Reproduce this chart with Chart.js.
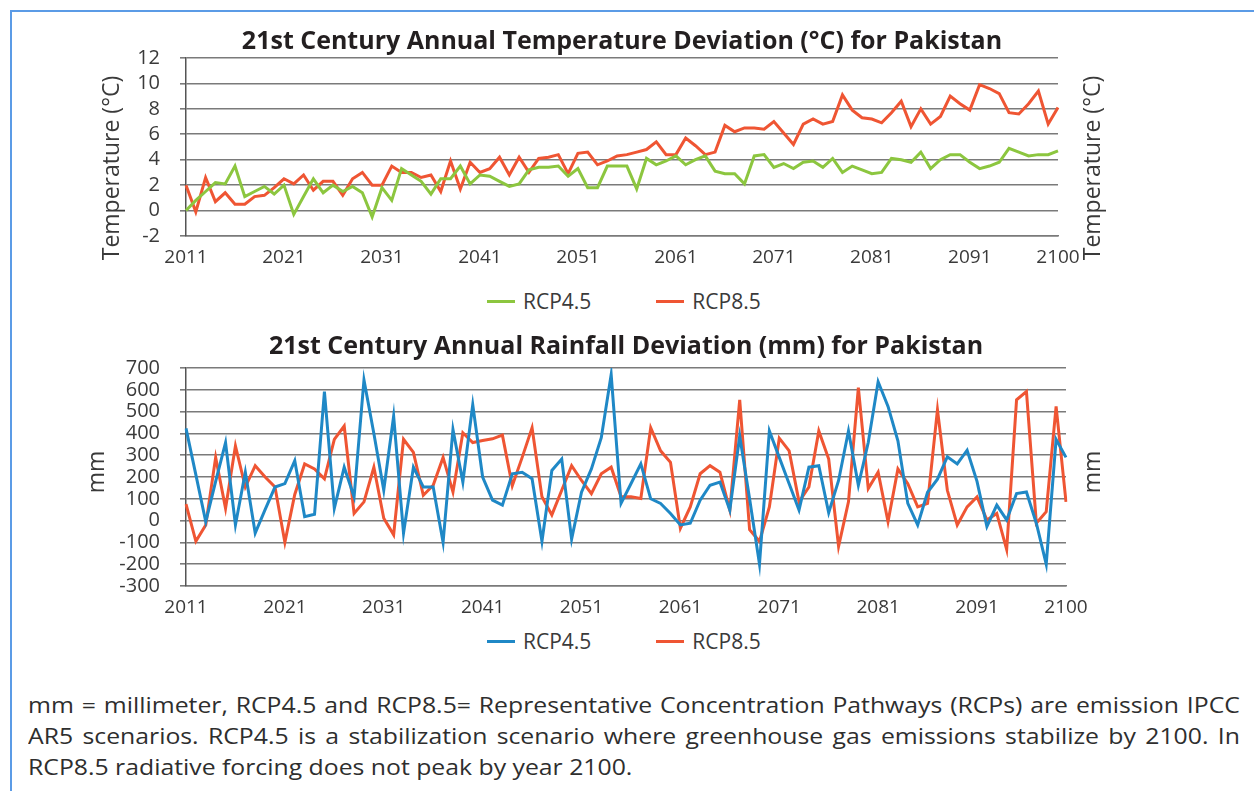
<!DOCTYPE html>
<html>
<head>
<meta charset="utf-8">
<title>Pakistan temperature and rainfall deviation</title>
<script src="https://cdn.jsdelivr.net/npm/chart.js@4.4.1/dist/chart.umd.min.js"></script>
<style>
    body { margin: 0; background: #fff; width: 1254px; height: 791px; overflow: hidden; position: relative; font-family: "Open Sans", sans-serif; color: #3a3a3a; }
    .frame { position: absolute; left: 10px; top: 10px; width: 1300px; height: 900px; border-left: 2px solid #5b9be6; border-top: 2px solid #5b9be6; }
    .box { position: absolute; left: 0; width: 1254px; }
    #tempBox { top: 18px; height: 250px; }
    #rainBox { top: 322px; height: 300px; }
    .legend { position: absolute; left: 487px; height: 26px; display: flex; align-items: center; font-size: 21px; color: #3a3a3a; }
    .legend .item { display: flex; align-items: center; margin-right: 65px; }
    .legend .swatch { width: 28px; height: 3px; margin-right: 8px; }
    #tempLegend { top: 288px; }
    #rainLegend { top: 628px; }
    .note { position: absolute; left: 28px; top: 690px; width: 1027px; transform: scaleX(1.18); transform-origin: 0 0; font-size: 21px; line-height: 31px; color: #2e2e2e; }
    .note div { text-align: justify; text-align-last: justify; white-space: nowrap; }
    .note div.last { text-align-last: left; }
</style>
</head>
<body>
<div class="frame"></div>
<div class="box" id="tempBox"><canvas id="tempChart"></canvas></div>
<div class="legend" id="tempLegend"></div>
<div class="box" id="rainBox"><canvas id="rainChart"></canvas></div>
<div class="legend" id="rainLegend"></div>
<div class="note">
    <div>mm = millimeter, RCP4.5 and RCP8.5= Representative Concentration Pathways (RCPs) are emission IPCC</div>
    <div>AR5 scenarios. RCP4.5 is a stabilization scenario where greenhouse gas emissions stabilize by 2100. In</div>
    <div class="last">RCP8.5 radiative forcing does not peak by year 2100.</div>
</div>

<script>
// Years on the x axis
const years = [
    "2011","2012","2013","2014","2015","2016","2017","2018","2019","2020",
    "2021","2022","2023","2024","2025","2026","2027","2028","2029","2030",
    "2031","2032","2033","2034","2035","2036","2037","2038","2039","2040",
    "2041","2042","2043","2044","2045","2046","2047","2048","2049","2050",
    "2051","2052","2053","2054","2055","2056","2057","2058","2059","2060",
    "2061","2062","2063","2064","2065","2066","2067","2068","2069","2070",
    "2071","2072","2073","2074","2075","2076","2077","2078","2079","2080",
    "2081","2082","2083","2084","2085","2086","2087","2088","2089","2090",
    "2091","2092","2093","2094","2095","2096","2097","2098","2099","2100"
];
// Years that get a label
const tickYears = ["2011","2021","2031","2041","2051","2061","2071","2081","2091","2100"];

// Temperature deviation (°C)
const tempRcp45 = [
    0.0, 0.8, 1.5, 2.2, 2.1, 3.5, 1.1, 1.5, 1.9, 1.3,
    2.0, -0.3, 1.1, 2.5, 1.4, 2.0, 1.5, 1.9, 1.4, -0.5,
    1.8, 0.8, 3.3, 2.8, 2.3, 1.3, 2.5, 2.5, 3.5, 2.1,
    2.8, 2.7, 2.3, 1.9, 2.1, 3.2, 3.4, 3.4, 3.5, 2.7,
    3.3, 1.8, 1.8, 3.5, 3.5, 3.5, 1.7, 4.1, 3.6, 3.9,
    4.3, 3.6, 4.0, 4.3, 3.1, 2.9, 2.9, 2.1, 4.3, 4.4,
    3.4, 3.7, 3.3, 3.8, 3.9, 3.4, 4.1, 3.0, 3.5, 3.2,
    2.9, 3.0, 4.1, 4.0, 3.8, 4.6, 3.3, 4.0, 4.4, 4.4,
    3.8, 3.3, 3.5, 3.8, 4.9, 4.6, 4.3, 4.4, 4.4, 4.7
];
const tempRcp85 = [
    2.0, -0.1, 2.6, 0.7, 1.4, 0.5, 0.5, 1.1, 1.2, 1.8,
    2.5, 2.1, 2.8, 1.6, 2.3, 2.3, 1.2, 2.5, 3.0, 2.0,
    2.0, 3.5, 3.0, 3.0, 2.6, 2.8, 1.5, 3.9, 1.7, 3.8,
    3.0, 3.3, 4.2, 2.8, 4.2, 3.0, 4.1, 4.2, 4.4, 2.9,
    4.5, 4.6, 3.6, 3.9, 4.3, 4.4, 4.6, 4.8, 5.4, 4.4,
    4.4, 5.7, 5.1, 4.4, 4.6, 6.7, 6.2, 6.5, 6.5, 6.4,
    7.0, 6.1, 5.2, 6.8, 7.2, 6.8, 7.0, 9.1, 7.9, 7.3,
    7.2, 6.9, 7.7, 8.6, 6.6, 8.0, 6.8, 7.4, 9.0, 8.4,
    7.9, 9.9, 9.6, 9.2, 7.7, 7.6, 8.4, 9.4, 6.8, 8.1
];

// Rainfall deviation (mm)
const rainRcp45 = [
    423, 210, -5, 180, 358, -20, 222, -57, 50, 154,
    170, 275, 18, 29, 592, 56, 245, 109, 645, 400,
    140, 479, -57, 245, 154, 154, -100, 418, 177, 532,
    200, 94, 71, 215, 222, 192, -95, 230, 282, -85,
    130, 237, 380, 670, 79, 169, 260, 100, 79, 33,
    -20, -12, 94, 162, 177, 48, 388, 100, -200, 411,
    290, 169, 48, 245, 252, 36, 184, 411, 162, 358,
    637, 524, 366, 79, -20, 130, 190, 293, 260, 323,
    180, -27, 71, 3, 124, 131, -12, -200, 373, 290
];
const rainRcp85 = [
    76, -95, -20, 290, 56, 343, 154, 252, 200, 154,
    -100, 120, 260, 237, 192, 373, 434, 33, 86, 245,
    11, -65, 373, 313, 116, 162, 290, 131, 403, 358,
    367, 375, 392, 160, 290, 426, 109, 26, 139, 252,
    184, 124, 215, 245, 109, 109, 101, 426, 320, 267,
    -35, 63, 215, 252, 222, 48, 554, -42, -95, 63,
    378, 320, 86, 154, 411, 282, -118, 86, 610, 147,
    222, -5, 237, 169, 63, 79, 509, 139, -20, 63,
    109, 3, 33, -133, 554, 592, -12, 41, 524, 86
];

const seriesNames = ["RCP4.5", "RCP8.5"];
const green = "#8cc63f";
const red = "#ef5533";
const blue = "#1f88c6";
const gridColor = "#7a7a7a";
const textColor = "#3a3a3a";

// Rotated axis titles on both sides of the plot
const sideTitles = {
    id: "sideTitles",
    afterDraw(chart, args, opts) {
        const ctx = chart.ctx;
        ctx.save();
        ctx.fillStyle = opts.color;
        ctx.font = opts.font;
        ctx.textAlign = "center";
        ctx.textBaseline = "middle";
        [opts.leftX, opts.rightX].forEach(x => {
            ctx.save();
            ctx.translate(x, opts.centerY);
            ctx.rotate(-Math.PI / 2);
            ctx.fillText(opts.text, 0, 0);
            ctx.restore();
        });
        ctx.restore();
    }
};

function makeChart(canvasId, cfg) {
    const datasets = cfg.series.map((data, i) => ({
        label: seriesNames[i],
        data: data,
        borderColor: cfg.colors[i],
        backgroundColor: cfg.colors[i],
        borderWidth: 3,
        pointRadius: 0,
        tension: 0,
        fill: false
    }));

    return new Chart(document.getElementById(canvasId), {
        type: "line",
        data: { labels: years, datasets: datasets },
        plugins: [sideTitles],
        options: {
            responsive: true,
            maintainAspectRatio: false,
            animation: false,
            layout: { padding: { left: 106, right: cfg.padRight, top: 0, bottom: 0 } },
            plugins: {
                legend: { display: false },
                tooltip: { enabled: false },
                title: {
                    display: true,
                    fullSize: false,
                    text: cfg.title,
                    color: "#231f20",
                    font: { family: "Open Sans", size: 25, weight: "bold", lineHeight: 1.2 },
                    padding: cfg.titlePadding
                },
                sideTitles: {
                    text: cfg.axisTitle,
                    leftX: cfg.axisLeftX,
                    rightX: 1093,
                    centerY: cfg.axisCenterY,
                    color: textColor,
                    font: "23px 'Open Sans'"
                }
            },
            scales: {
                x: {
                    offset: false,
                    grid: { display: false, drawTicks: false },
                    border: { display: true, color: gridColor, width: 1.5 },
                    ticks: {
                        autoSkip: false,
                        maxRotation: 0,
                        minRotation: 0,
                        padding: 10,
                        color: textColor,
                        font: { family: "Open Sans", size: 19 },
                        callback: function (value) {
                            const label = this.getLabelForValue(value);
                            return tickYears.includes(label) ? label : "";
                        }
                    },
                    afterFit: scale => { scale.height = cfg.xHeight; }
                },
                y: {
                    min: cfg.min,
                    max: cfg.max,
                    grid: { color: gridColor, lineWidth: 1.6, tickLength: 6 },
                    border: { display: true, color: "#555", width: 1.5 },
                    ticks: {
                        autoSkip: false,
                        stepSize: cfg.step,
                        padding: 20,
                        color: textColor,
                        font: { family: "Open Sans", size: 20, lineHeight: 1 }
                    },
                    afterFit: scale => { scale.width = 80; }
                }
            }
        }
    });
}

function buildLegend(id, colors) {
    const box = document.getElementById(id);
    seriesNames.forEach((name, i) => {
        const item = document.createElement("div");
        item.className = "item";
        item.innerHTML = `<span class="swatch" style="background:${colors[i]}"></span><span>${name}</span>`;
        box.appendChild(item);
    });
}

document.addEventListener("DOMContentLoaded", () => {
    makeChart("tempChart", {
        title: "21st Century Annual Temperature Deviation (\u00B0C) for Pakistan",
        series: [tempRcp45, tempRcp85],
        colors: [green, red],
        min: -2, max: 12, step: 2,
        padRight: 196, xHeight: 32,
        titlePadding: { top: 9, bottom: 1 },
        axisTitle: "Temperature (\u00B0C)", axisLeftX: 112, axisCenterY: 150
    });
    makeChart("rainChart", {
        title: "21st Century Annual Rainfall Deviation (mm) for Pakistan",
        series: [rainRcp45, rainRcp85],
        colors: [blue, red],
        min: -300, max: 700, step: 100,
        padRight: 188, xHeight: 36,
        titlePadding: { top: 10, bottom: 6 },
        axisTitle: "mm", axisLeftX: 97, axisCenterY: 150
    });
    buildLegend("tempLegend", [green, red]);
    buildLegend("rainLegend", [blue, red]);
});
</script>
</body>
</html>
